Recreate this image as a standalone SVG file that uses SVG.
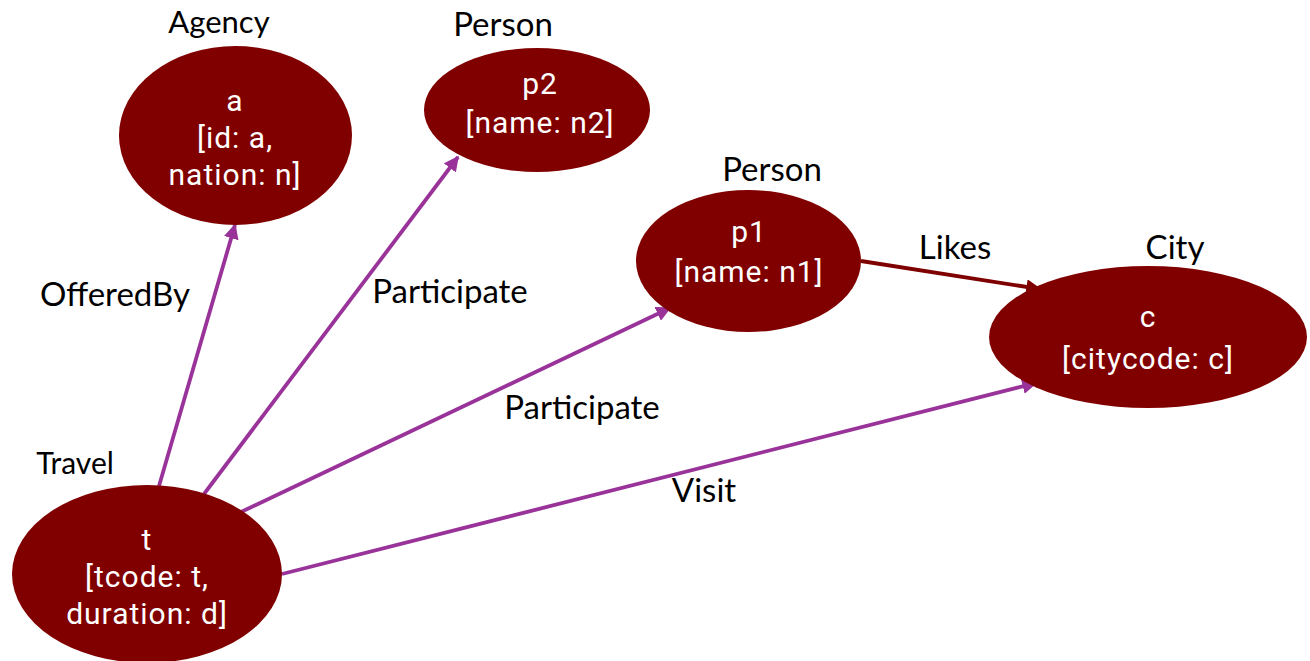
<svg xmlns="http://www.w3.org/2000/svg" width="1310" height="661" viewBox="0 0 1310 661">
<style>
.node{fill:#800000}
.nt{font-family:Roboto,"Open Sans",sans-serif;font-size:30px;letter-spacing:1px;fill:#ffffff;text-anchor:middle}
.lbl{font-family:Lato,"Liberation Sans",sans-serif;font-size:33px;fill:#000000;text-anchor:middle}
.edge{stroke:#993399;stroke-width:3.8;fill:none}
.likes{stroke:#7f0000;stroke-width:3.8;fill:none}
</style>
<defs>
<marker id="ap" markerWidth="4" markerHeight="4" refX="3.6" refY="2" orient="auto" markerUnits="strokeWidth">
<path d="M0,0 L4,2 L0,4 Z" fill="#993399"/>
</marker>
<marker id="ar" markerWidth="4" markerHeight="4" refX="3.6" refY="2" orient="auto" markerUnits="strokeWidth">
<path d="M0,0 L4,2 L0,4 Z" fill="#7f0000"/>
</marker>
</defs>
<rect width="1310" height="661" fill="#ffffff"/>
<g id="connectors">
<line class="edge" x1="159" y1="486" x2="235" y2="225" marker-end="url(#ap)"/>
<line class="edge" x1="204" y1="494" x2="458" y2="157" marker-end="url(#ap)"/>
<line class="edge" x1="241" y1="512" x2="670" y2="308" marker-end="url(#ap)"/>
<line class="edge" x1="282" y1="574" x2="1036" y2="383" marker-end="url(#ap)"/>
<line class="likes" x1="861" y1="261" x2="1040" y2="289" marker-end="url(#ar)"/>
<text class="lbl" x="115" y="306">OfferedBy</text>
<text class="lbl" x="450" y="303">Participate</text>
<text class="lbl" x="582" y="419">Participate</text>
<text class="lbl" x="704" y="502">Visit</text>
<text class="lbl" x="955" y="259">Likes</text>
</g>
<g id="agency">
<ellipse class="node" cx="235.5" cy="135.5" rx="116.5" ry="89.5"/>
<text class="lbl" x="219" y="33" style="font-size:31px">Agency</text>
<text class="nt" x="235" y="111">a</text>
<text class="nt" x="235" y="148">[id: a,</text>
<text class="nt" x="235" y="185">nation: n]</text>
</g>
<g id="p2">
<ellipse class="node" cx="537" cy="110" rx="113" ry="62"/>
<text class="lbl" x="503" y="36">Person</text>
<text class="nt" x="540" y="94">p2</text>
<text class="nt" x="540" y="133">[name: n2]</text>
</g>
<g id="p1">
<ellipse class="node" cx="748.5" cy="261" rx="112.5" ry="71"/>
<text class="lbl" x="772" y="181">Person</text>
<text class="nt" x="749" y="242">p1</text>
<text class="nt" x="749" y="282">[name: n1]</text>
</g>
<g id="city">
<ellipse class="node" cx="1148" cy="337" rx="159" ry="71"/>
<text class="lbl" x="1175" y="259">City</text>
<text class="nt" x="1148" y="327">c</text>
<text class="nt" x="1148" y="369">[citycode: c]</text>
</g>
<g id="travel">
<ellipse class="node" cx="147" cy="574" rx="135" ry="89"/>
<text class="lbl" x="75" y="474" style="font-size:30px">Travel</text>
<text class="nt" x="147" y="550">t</text>
<text class="nt" x="147" y="587">[tcode: t,</text>
<text class="nt" x="147" y="624">duration: d]</text>
</g>
</svg>
